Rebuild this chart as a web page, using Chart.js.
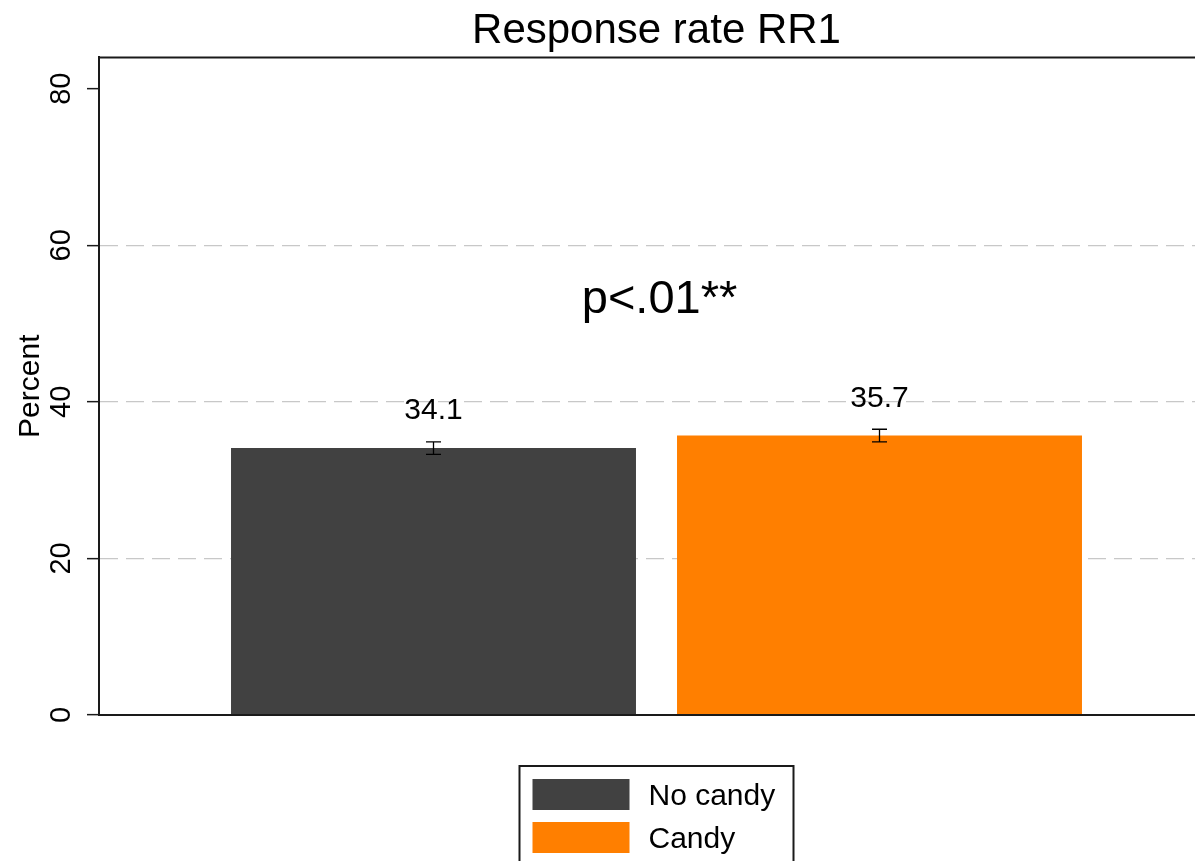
<!DOCTYPE html>
<html>
<head>
<meta charset="utf-8">
<title>Response rate RR1</title>
<script src="https://cdn.jsdelivr.net/npm/chart.js@4"></script>
<style>
  html, body { margin: 0; padding: 0; background: #fff; overflow: hidden; }
  canvas { display: block; }
</style>
</head>
<body>
<canvas id="rrChart" width="1214" height="861" style="width:1214px;height:861px"></canvas>
<script>
// values
var groups = ["No candy", "Candy"];
var rates = [34.1, 35.7];
var ciLow = [33.3, 34.9];
var ciHigh = [34.9, 36.5];
var yTicks = [0, 20, 40, 60, 80];
var pNote = "p<.01**";

var barColors = ["#414141", "#ff7f00"];
var fontFamily = '"Liberation Sans", Arial, Helvetica, sans-serif';

// error bars, value labels and the p-value note
var barExtras = {
  id: "barExtras",
  afterDatasetsDraw: function(chart) {
    var ctx = chart.ctx;
    var y = chart.scales.y;
    ctx.save();
    chart.data.datasets.forEach(function(ds, i) {
      var bar = chart.getDatasetMeta(i).data[0];
      var lo = y.getPixelForValue(ciLow[i]);
      var hi = y.getPixelForValue(ciHigh[i]);
      ctx.strokeStyle = "#000";
      ctx.lineWidth = 1.3;
      ctx.beginPath();
      ctx.moveTo(bar.x, lo); ctx.lineTo(bar.x, hi);
      ctx.moveTo(bar.x - 7.5, lo); ctx.lineTo(bar.x + 7.5, lo);
      ctx.moveTo(bar.x - 7.5, hi); ctx.lineTo(bar.x + 7.5, hi);
      ctx.stroke();

      ctx.fillStyle = "#000";
      ctx.font = "30px " + fontFamily;
      ctx.textAlign = "center";
      ctx.textBaseline = "middle";
      ctx.fillText(rates[i].toFixed(1), bar.x, bar.y - 37);
    });
    var area = chart.chartArea;
    ctx.font = "47px " + fontFamily;
    ctx.textAlign = "center";
    ctx.textBaseline = "middle";
    ctx.fillText(pNote, (area.left + area.right) / 2 + 3, y.getPixelForValue(53));
    ctx.restore();
  }
};

// top frame line and boxed legend under the plot
var frameAndLegend = {
  id: "frameAndLegend",
  afterDraw: function(chart) {
    var ctx = chart.ctx;
    var area = chart.chartArea;
    ctx.save();
    ctx.strokeStyle = "#1a1a1a";
    ctx.lineWidth = 2;
    ctx.beginPath();
    ctx.moveTo(area.left - 1, area.top);
    ctx.lineTo(area.right, area.top);
    ctx.stroke();

    var cx = (area.left + area.right) / 2;
    var left = cx - 137, top = area.bottom + 51;
    ctx.strokeRect(left, top, 274, 130);
    ctx.font = "30px " + fontFamily;
    ctx.textAlign = "left";
    ctx.textBaseline = "middle";
    chart.data.datasets.forEach(function(ds, i) {
      var ry = top + 13 + i * 43;
      ctx.fillStyle = ds.backgroundColor;
      ctx.fillRect(left + 13, ry, 97, 31);
      ctx.fillStyle = "#000";
      ctx.fillText(ds.label, left + 129, ry + 18);
    });
    ctx.restore();
  }
};

var ctx = document.getElementById("rrChart").getContext("2d");
var rrChart = new Chart(ctx, {
  type: "bar",
  data: {
    labels: [""],
    datasets: groups.map(function(g, i) {
      return {
        label: g,
        data: [rates[i]],
        backgroundColor: barColors[i],
        categoryPercentage: 0.8,
        barPercentage: 0.908
      };
    })
  },
  plugins: [barExtras, frameAndLegend],
  options: {
    responsive: false,
    animation: false,
    devicePixelRatio: 1,
    layout: { padding: { left: 0, right: 0, top: 0, bottom: 146 } },
    plugins: {
      legend: { display: false },
      tooltip: { enabled: false },
      title: {
        display: true,
        text: "Response rate RR1",
        fullSize: false,
        color: "#000",
        font: { family: fontFamily, size: 42, weight: "normal" },
        padding: { top: 6, bottom: 1 }
      }
    },
    scales: {
      x: {
        ticks: { display: false },
        grid: { display: false, drawTicks: false },
        border: { display: true, color: "#1a1a1a", width: 2, z: 1 }
      },
      y: {
        min: 0,
        max: 84,
        afterBuildTicks: function(scale) {
          scale.ticks = yTicks.map(function(v) { return { value: v }; });
        },
        afterFit: function(scale) { scale.width = 99; },
        title: {
          display: true,
          text: "Percent",
          color: "#000",
          font: { family: fontFamily, size: 30 },
          padding: { top: 13, bottom: 0 }
        },
        ticks: {
          color: "#000",
          font: { family: fontFamily, size: 29 },
          minRotation: 90,
          maxRotation: 90,
          crossAlign: "center",
          padding: 9
        },
        grid: {
          color: function(c) {
            var v = c.tick ? c.tick.value : null;
            return (v === 0 || v === 80) ? "rgba(0,0,0,0)" : "#c8c8c8";
          },
          lineWidth: 1.3,
          tickLength: 12,
          tickColor: "#1a1a1a",
          tickWidth: 1.5
        },
        border: { display: true, color: "#1a1a1a", width: 2, dash: [18, 8], z: 1 }
      }
    }
  }
});
</script>
</body>
</html>
